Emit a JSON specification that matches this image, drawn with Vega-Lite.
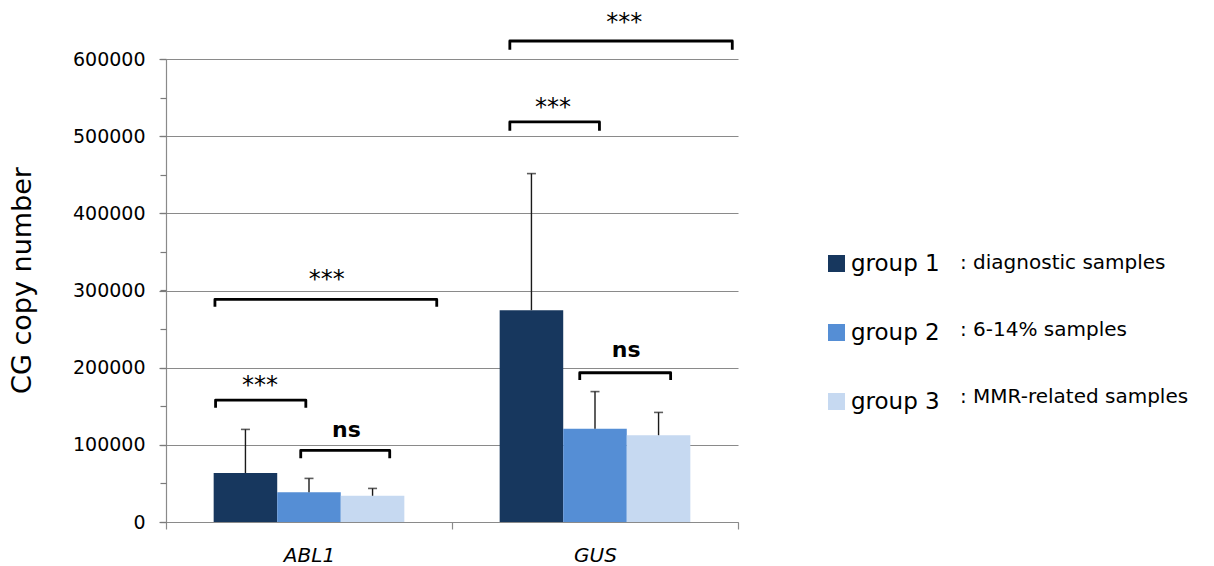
{
  "$schema": "https://vega.github.io/schema/vega-lite/v6.json",
  "width": 572,
  "height": 463,
  "autosize": {"type": "none"},
  "padding": {"left": 166, "top": 59, "right": 476, "bottom": 44},
  "background": "white",
  "config": {
    "font": "DejaVu Sans",
    "view": {"stroke": null},
    "axis": {"labelColor": "#000", "titleColor": "#000", "domainColor": "#8a8a8a", "gridColor": "#8a8a8a"},
    "axisY": {"ticks": true, "tickSize": 7, "tickWidth": 1.2, "tickColor": "#7a7a7a", "labelFontSize": 19, "labelPadding": 14, "domainWidth": 1.2},
    "axisX": {"ticks": true, "tickSize": 7, "tickWidth": 1.2, "tickColor": "#8a8a8a"}
  },
  "datasets": {
    "bars": [
      {"gene": "ABL1", "group": "group 1", "desc": ": diagnostic samples", "value": 63500, "upper": 120000},
      {"gene": "ABL1", "group": "group 2", "desc": ": 6-14% samples", "value": 38500, "upper": 56500},
      {"gene": "ABL1", "group": "group 3", "desc": ": MMR-related samples", "value": 34000, "upper": 43500},
      {"gene": "GUS", "group": "group 1", "desc": ": diagnostic samples", "value": 274500, "upper": 451500},
      {"gene": "GUS", "group": "group 2", "desc": ": 6-14% samples", "value": 121000, "upper": 169000},
      {"gene": "GUS", "group": "group 3", "desc": ": MMR-related samples", "value": 112500, "upper": 142000}
    ],
    "brackets": [
      {"id": "b1", "gene": "ABL1", "pos": 0.03, "value": 148000, "ord": 1},
      {"id": "b1", "gene": "ABL1", "pos": 0.03, "value": 158000, "ord": 2},
      {"id": "b1", "gene": "ABL1", "pos": 1.45, "value": 158000, "ord": 3},
      {"id": "b1", "gene": "ABL1", "pos": 1.45, "value": 148000, "ord": 4},
      {"id": "b2", "gene": "ABL1", "pos": 1.37, "value": 82500, "ord": 1},
      {"id": "b2", "gene": "ABL1", "pos": 1.37, "value": 92800, "ord": 2},
      {"id": "b2", "gene": "ABL1", "pos": 2.77, "value": 92800, "ord": 3},
      {"id": "b2", "gene": "ABL1", "pos": 2.77, "value": 82500, "ord": 4},
      {"id": "b3", "gene": "ABL1", "pos": 0.02, "value": 279000, "ord": 1},
      {"id": "b3", "gene": "ABL1", "pos": 0.02, "value": 288400, "ord": 2},
      {"id": "b3", "gene": "ABL1", "pos": 3.51, "value": 288400, "ord": 3},
      {"id": "b3", "gene": "ABL1", "pos": 3.51, "value": 279000, "ord": 4},
      {"id": "b4", "gene": "GUS", "pos": 1.26, "value": 184000, "ord": 1},
      {"id": "b4", "gene": "GUS", "pos": 1.26, "value": 193400, "ord": 2},
      {"id": "b4", "gene": "GUS", "pos": 2.69, "value": 193400, "ord": 3},
      {"id": "b4", "gene": "GUS", "pos": 2.69, "value": 184000, "ord": 4},
      {"id": "b5", "gene": "GUS", "pos": 0.16, "value": 507000, "ord": 1},
      {"id": "b5", "gene": "GUS", "pos": 0.16, "value": 518500, "ord": 2},
      {"id": "b5", "gene": "GUS", "pos": 1.57, "value": 518500, "ord": 3},
      {"id": "b5", "gene": "GUS", "pos": 1.57, "value": 507000, "ord": 4},
      {"id": "b6", "gene": "GUS", "pos": 0.16, "value": 612000, "ord": 1},
      {"id": "b6", "gene": "GUS", "pos": 0.16, "value": 623300, "ord": 2},
      {"id": "b6", "gene": "GUS", "pos": 3.66, "value": 623300, "ord": 3},
      {"id": "b6", "gene": "GUS", "pos": 3.66, "value": 612000, "ord": 4}
    ],
    "labels": [
      {"gene": "ABL1", "pos": 0.73, "value": 167000, "label": "***"},
      {"gene": "ABL1", "pos": 1.78, "value": 305000, "label": "***"},
      {"gene": "ABL1", "pos": 2.09, "value": 110600, "label": "ns"},
      {"gene": "GUS", "pos": 0.84, "value": 528000, "label": "***"},
      {"gene": "GUS", "pos": 1.96, "value": 638000, "label": "***"},
      {"gene": "GUS", "pos": 1.99, "value": 214400, "label": "ns"}
    ]
  },
  "layer": [
    {
      "data": {"name": "bars"},
      "mark": {"type": "bar"},
      "encoding": {
        "x": {
          "field": "gene", "type": "nominal",
          "scale": {"paddingInner": 0, "paddingOuter": 0},
          "axis": {"title": null, "labelAngle": 0, "labelFontSize": 20, "labelFontStyle": "italic", "tickBand": "extent", "labelPadding": 16, "domainWidth": 1.2}
        },
        "xOffset": {"field": "group", "type": "nominal", "scale": {"paddingInner": 0, "paddingOuter": 0.75}},
        "y": {
          "field": "value", "type": "quantitative",
          "scale": {"domain": [0, 600000], "nice": false},
          "axis": {
            "orient": "left",
            "title": "CG copy number", "titleFontSize": 27, "titleFontWeight": "normal", "titlePadding": 36, "titleY": 221,
            "values": [0, 100000, 200000, 300000, 400000, 500000, 600000],
            "format": "d",
            "grid": true, "gridWidth": 1.2
          }
        },
        "color": {
          "field": "group", "type": "nominal",
          "scale": {"domain": ["group 1", "group 2", "group 3"], "range": ["#17375e", "#558ed5", "#c6d9f1"]},
          "legend": {"title": null, "orient": "none", "legendX": 659, "legendY": 193, "symbolType": "square", "symbolSize": 289, "symbolStrokeWidth": 0, "labelFontSize": 23, "labelOffset": 3, "rowPadding": 45, "padding": 0, "labelLimit": 400, "labelColor": "#000"}
        },
        "strokeDash": {
          "field": "desc", "type": "nominal",
          "scale": {"domain": [": diagnostic samples", ": 6-14% samples", ": MMR-related samples"]},
          "legend": {"title": null, "orient": "none", "legendX": 774, "legendY": 194, "symbolOpacity": 0, "symbolSize": 1, "symbolStrokeWidth": 0, "labelFontSize": 20, "labelOffset": 0, "rowPadding": 47, "padding": 0, "labelLimit": 400, "labelColor": "#000"}
        }
      }
    },
    {
      "data": {"name": "bars"},
      "mark": {"type": "rule", "color": "#1a1a1a", "strokeWidth": 1.4},
      "encoding": {
        "x": {"field": "gene", "type": "nominal", "axis": {"title": null}},
        "xOffset": {"field": "group", "type": "nominal", "scale": {"paddingInner": 0, "paddingOuter": 0.75}},
        "y": {
          "field": "value", "type": "quantitative",
          "axis": {"orient": "left", "title": null, "values": [1, 50000, 100001, 150000, 200001, 250000, 300001, 350000, 400001, 450000, 500001, 550000, 599999], "labels": false, "grid": false, "domain": false, "ticks": true, "tickSize": 6}
        },
        "y2": {"field": "upper"}
      }
    },
    {
      "data": {"name": "bars"},
      "mark": {"type": "tick", "color": "#1a1a1a", "size": 9, "thickness": 1.6},
      "encoding": {
        "x": {"field": "gene", "type": "nominal", "axis": {"title": null}},
        "xOffset": {"field": "group", "type": "nominal", "scale": {"paddingInner": 0, "paddingOuter": 0.75}},
        "y": {"field": "upper", "type": "quantitative", "axis": null}
      }
    },
    {
      "data": {"name": "brackets"},
      "mark": {"type": "line", "color": "#000", "strokeWidth": 2.8, "strokeJoin": "round"},
      "encoding": {
        "x": {"field": "gene", "type": "nominal", "axis": {"title": null}},
        "xOffset": {"field": "pos", "type": "quantitative", "scale": {"domain": [-0.75, 3.75], "nice": false, "zero": false}},
        "y": {"field": "value", "type": "quantitative", "axis": null},
        "detail": {"field": "id", "type": "nominal"},
        "order": {"field": "ord", "type": "quantitative"}
      }
    },
    {
      "data": {"name": "labels"},
      "transform": [{"filter": "datum.label === '***'"}],
      "mark": {"type": "text", "fontSize": 24, "baseline": "alphabetic", "align": "center", "color": "#000"},
      "encoding": {
        "x": {"field": "gene", "type": "nominal", "axis": {"title": null}},
        "xOffset": {"field": "pos", "type": "quantitative", "scale": {"domain": [-0.75, 3.75], "nice": false, "zero": false}},
        "y": {"field": "value", "type": "quantitative", "axis": null},
        "text": {"field": "label"}
      }
    },
    {
      "data": {"name": "labels"},
      "transform": [{"filter": "datum.label === 'ns'"}],
      "mark": {"type": "text", "fontSize": 22, "fontWeight": "bold", "baseline": "alphabetic", "align": "center", "color": "#000"},
      "encoding": {
        "x": {"field": "gene", "type": "nominal", "axis": {"title": null}},
        "xOffset": {"field": "pos", "type": "quantitative", "scale": {"domain": [-0.75, 3.75], "nice": false, "zero": false}},
        "y": {"field": "value", "type": "quantitative", "axis": null},
        "text": {"field": "label"}
      }
    }
  ],
  "resolve": {"scale": {"xOffset": "independent"}, "axis": {"y": "independent"}}
}
